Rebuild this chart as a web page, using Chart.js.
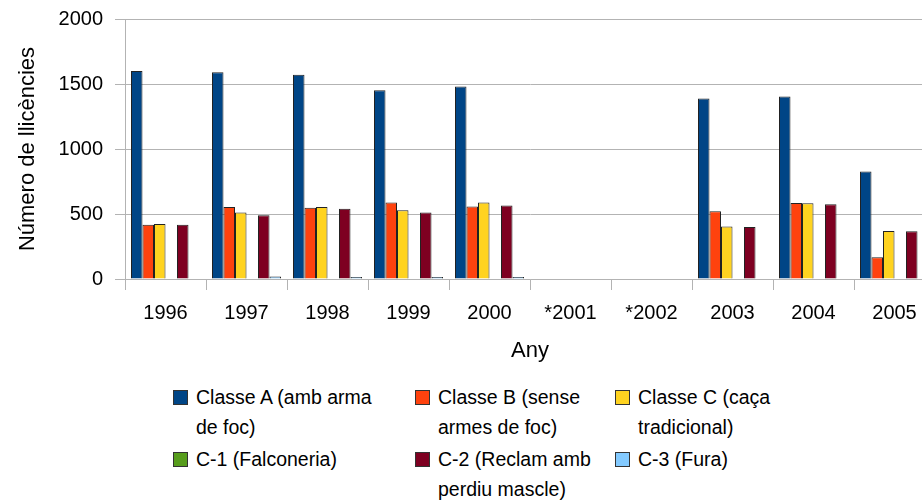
<!DOCTYPE html>
<html>
<head>
<meta charset="utf-8">
<script src="https://cdn.jsdelivr.net/npm/chart.js@4"></script>
<style>
html, body { margin: 0; padding: 0; background: #fff; overflow: hidden; }
#wrap { position: relative; width: 922px; height: 503px; overflow: hidden; }
#chart { position: absolute; left: 0; top: 0; }
.legend-text { position: absolute; font-family: "Liberation Sans", Arial, sans-serif; font-size: 19.5px; line-height: 30px; color: #000; white-space: pre-line; }
.legend-box { position: absolute; width: 13px; height: 13px; border: 1px solid #333; }
</style>
</head>
<body>
<div id="wrap">
	<canvas id="chart" width="940" height="372"></canvas>
	<div id="legend"></div>
</div>
<script>
var years = ['1996', '1997', '1998', '1999', '2000', '*2001', '*2002', '2003', '2004', '2005'];
var classeA = [1600, 1590, 1572, 1452, 1480, null, null, 1388, 1403, 826];
var classeB = [418, 554, 549, 588, 557, null, null, 521, 585, 167];
var classeC = [423, 511, 554, 528, 588, null, null, 403, 582, 369];
var c1 = [0, 0, 0, 0, 0, null, null, 0, 3, 3];
var c2 = [418, 490, 541, 511, 565, null, null, 400, 575, 367];
var c3 = [3, 20, 15, 15, 15, null, null, 3, 3, 3];
var yTicks = [0, 500, 1000, 1500, 2000];

var seriesNames = ['Classe A (amb arma\nde foc)', 'Classe B (sense\narmes de foc)', 'Classe C (caça\ntradicional)',
	'C-1 (Falconeria)', 'C-2 (Reclam amb\nperdiu mascle)', 'C-3 (Fura)'];
var seriesData = [classeA, classeB, classeC, c1, c2, c3];
var colors = ['#004586', '#ff420e', '#ffd320', '#579d1c', '#7e0021', '#83caff'];

var tickFont = { family: '"Liberation Sans", Arial, sans-serif', size: 20 };
var titleFont = { family: '"Liberation Sans", Arial, sans-serif', size: 22 };

var datasets = [];
for (var i = 0; i < seriesData.length; i++) {
	datasets.push({
		label: seriesNames[i].replace('\n', ' '),
		data: seriesData[i],
		backgroundColor: colors[i],
		borderColor: '#222',
		borderWidth: 1,
		borderSkipped: 'bottom',
		categoryPercentage: 0.852,
		barPercentage: 1.0
	});
}

new Chart(document.getElementById('chart'), {
	type: 'bar',
	data: { labels: years, datasets: datasets },
	options: {
		responsive: false,
		animation: false,
		layout: { padding: { top: 19, right: 5, bottom: 0, left: 0 } },
		plugins: { legend: { display: false }, tooltip: { enabled: false } },
		scales: {
			x: {
				afterFit: function(scale) { scale.height = 93; },
				grid: { display: true, drawOnChartArea: false, drawTicks: true, tickLength: 11, color: '#b3b3b3', offset: true },
				border: { display: true, color: '#b3b3b3' },
				ticks: { color: '#000', font: tickFont, padding: 11, maxRotation: 0 },
				title: { display: true, text: 'Any', color: '#000', font: titleFont, padding: { top: 0, bottom: 8 } }
			},
			y: {
				min: 0,
				max: 2000,
				afterFit: function(scale) {
					scale.width = 125;
					scale.paddingTop = 0;
					scale.paddingBottom = 0;
				},
				afterBuildTicks: function(scale) { scale.ticks = yTicks.map(function(v) { return { value: v }; }); },
				grid: { color: '#b3b3b3', tickLength: 10 },
				border: { display: true, color: '#b3b3b3' },
				ticks: { color: '#000', font: tickFont, padding: 12, callback: function(v) { return String(v); } },
				title: { display: true, text: 'Número de llicències', color: '#000', font: titleFont, padding: { top: 15, bottom: 0 } }
			}
		}
	}
});

// legend below, 3 columns like the original
var legendCols = [173, 415, 615];
var legendRows = [390, 452];
var legend = document.getElementById('legend');
for (var k = 0; k < seriesNames.length; k++) {
	var col = k % 3;
	var row = Math.floor(k / 3);
	var box = document.createElement('div');
	box.className = 'legend-box';
	box.style.left = legendCols[col] + 'px';
	box.style.top = legendRows[row] + 'px';
	box.style.background = colors[k];
	legend.appendChild(box);
	var txt = document.createElement('div');
	txt.className = 'legend-text';
	txt.style.left = (legendCols[col] + 23) + 'px';
	txt.style.top = (legendRows[row] - 8) + 'px';
	txt.textContent = seriesNames[k];
	legend.appendChild(txt);
}
</script>
</body>
</html>
